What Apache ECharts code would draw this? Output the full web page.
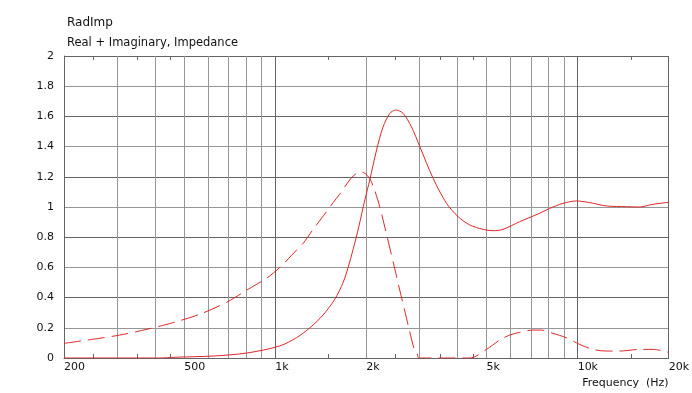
<!DOCTYPE html>
<html>
<head>
<meta charset="utf-8">
<script src="https://cdn.jsdelivr.net/npm/echarts@6/dist/echarts.min.js"></script>
<style>
html,body{margin:0;padding:0;background:#fff;}
#chart{width:692px;height:393px;}
</style>
</head>
<body>
<div id="chart"></div>
<script>
// ---- data ----
const freqReal = [200, 415, 466, 622, 805, 1035, 1176, 1301, 1439, 1574, 1676, 1741, 1809, 1889, 1977, 2054, 2162, 2272, 2392, 2504, 2646, 2822, 3006, 3326, 3682, 4024, 4398, 4866, 5252, 5666, 6434, 7396, 8088, 8946, 9906, 10964, 12446, 14494, 16044, 17748, 20000];
const realPart = [0, 0, 0.005, 0.013, 0.033, 0.08, 0.135, 0.2, 0.285, 0.39, 0.5, 0.6, 0.72, 0.87, 1.046, 1.18, 1.377, 1.53, 1.62, 1.642, 1.62, 1.53, 1.40, 1.19, 1.025, 0.936, 0.881, 0.852, 0.843, 0.852, 0.903, 0.954, 0.991, 1.024, 1.04, 1.029, 1.007, 1.002, 1.0, 1.018, 1.031];

const freqImag = [200, 249, 306, 376, 459, 563, 692, 805, 938, 1035, 1176, 1237, 1334, 1422, 1554, 1626, 1787, 1879, 1943, 2012, 2064, 2134, 2216, 2302, 2392, 2485, 2580, 2681, 2786, 2880, 2945, 2984, 3500, 4398, 4994, 5526, 5964, 6434, 7120, 7590, 8292, 9182, 10158, 11244, 12446, 13774, 16044, 17748, 20000];
const imagPart = [0.097, 0.124, 0.152, 0.19, 0.234, 0.29, 0.37, 0.45, 0.53, 0.60, 0.715, 0.76, 0.852, 0.925, 1.03, 1.08, 1.194, 1.227, 1.23, 1.21, 1.18, 1.108, 1.0, 0.868, 0.728, 0.589, 0.45, 0.311, 0.172, 0.06, 0.03, 0, 0, 0, 0.057, 0.119, 0.152, 0.17, 0.185, 0.185, 0.163, 0.134, 0.09, 0.057, 0.046, 0.046, 0.057, 0.057, 0.038];

const gridFreqs = [200, 300, 400, 500, 600, 700, 800, 900, 1000, 2000, 3000, 4000, 5000, 6000, 7000, 8000, 9000, 10000, 20000];
const decadeFreqs = [200, 1000, 10000, 20000];
const labelFreqs = [200, 500, 1000, 2000, 5000, 10000, 20000];
const xTickLabels = ['200', '500', '1k', '2k', '5k', '10k', '20k'];
const minorFreqs = [250, 350, 450, 1500, 2500, 3500, 4500, 15000];

const titleText = 'RadImp';
const subtitleText = 'Real + Imaginary, Impedance';
const xAxisName = 'Frequency  (Hz)';

// ---- chart ----
const DARK = '#646464', LIGHT = '#969696', RED = '#dc2828';
const FONT = 'DejaVu Sans';

const chart = echarts.init(document.getElementById('chart'), null, {renderer: 'canvas'});
const labelMap = {};
labelFreqs.forEach((f, i) => { labelMap[f] = xTickLabels[i]; });

const baseX = {type: 'log', logBase: 10, min: 200, max: 20000, gridIndex: 0};
const hiddenX = (extra) => Object.assign({}, baseX, {
  axisLine: {show: false}, axisLabel: {show: false}, splitLine: {show: false}, axisTick: {show: false}
}, extra);

chart.setOption({
  animation: false,
  backgroundColor: '#fff',
  title: [
    {text: titleText, left: 62, top: 12, textStyle: {fontFamily: FONT, fontSize: 12, fontWeight: 'normal', color: '#111'}},
    {text: subtitleText, left: 62, top: 32, textStyle: {fontFamily: FONT, fontSize: 11.5, fontWeight: 'normal', color: '#111'}}
  ],
  grid: {left: 64, right: 23, top: 56, bottom: 35, containLabel: false},
  xAxis: [
    Object.assign({}, baseX, {
      position: 'bottom',
      name: xAxisName,
      nameLocation: 'end',
      nameGap: 0,
      nameTextStyle: {fontFamily: FONT, fontSize: 11, color: '#111', align: 'right', verticalAlign: 'top', padding: [20, 0, 0, 0]},
      axisLine: {show: false},
      axisTick: {show: false, customValues: gridFreqs},
      splitLine: {show: true, lineStyle: {color: LIGHT, width: 1}},
      axisLabel: {
        customValues: labelFreqs,
        formatter: v => labelMap[Math.round(v)] !== undefined ? labelMap[Math.round(v)] : '',
        align: 'left', margin: 4,
        fontFamily: FONT, fontSize: 11, color: '#111',
        showMinLabel: true, showMaxLabel: true
      }
    }),
    hiddenX({
      position: 'bottom',
      axisLine: {show: true, lineStyle: {color: DARK, width: 1}},
      axisTick: {show: false, customValues: decadeFreqs},
      splitLine: {show: true, lineStyle: {color: DARK, width: 1}}
    }),
    hiddenX({
      position: 'bottom',
      axisTick: {show: true, inside: true, length: 4, customValues: minorFreqs, lineStyle: {color: DARK}}
    }),
    hiddenX({
      position: 'top',
      axisTick: {show: true, inside: true, length: 4, customValues: minorFreqs, lineStyle: {color: DARK}}
    })
  ],
  yAxis: [
    {
      type: 'value', min: 0, max: 2, interval: 0.2,
      axisLine: {show: false},
      axisTick: {show: false},
      splitLine: {show: true, lineStyle: {color: LIGHT, width: 1}},
      axisLabel: {
        margin: 10, fontFamily: FONT, fontSize: 11, color: '#111',
        formatter: v => String(Math.round(v * 10) / 10)
      }
    },
    {
      type: 'value', min: 0, max: 2, interval: 0.4, position: 'left',
      axisLine: {show: true, onZero: false, lineStyle: {color: DARK, width: 1}},
      axisTick: {show: false},
      axisLabel: {show: false},
      splitLine: {show: true, lineStyle: {color: DARK, width: 1}}
    }
  ],
  series: [
    {
      name: 'Real', type: 'line', xAxisIndex: 0, yAxisIndex: 0,
      data: freqReal.map((f, i) => [f, realPart[i]]),
      showSymbol: false, smooth: 0.3, clip: true,
      lineStyle: {color: RED, width: 1}
    },
    {
      name: 'Imaginary', type: 'line', xAxisIndex: 0, yAxisIndex: 0,
      data: freqImag.map((f, i) => [f, imagPart[i]]),
      showSymbol: false, smooth: 0.3, clip: true,
      lineStyle: {color: RED, width: 1, type: [17, 7]}
    }
  ]
});
</script>
</body>
</html>
